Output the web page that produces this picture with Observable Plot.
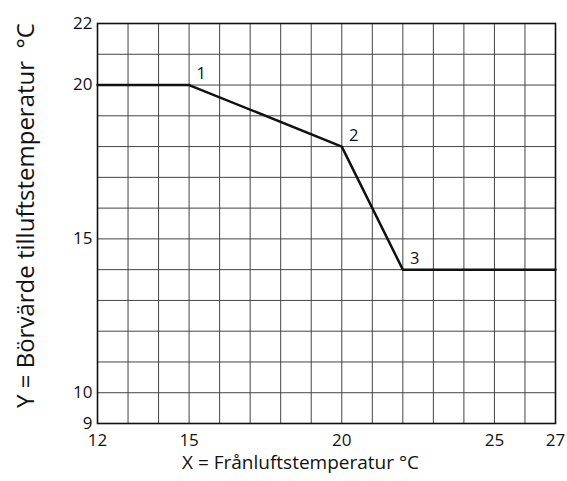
<!DOCTYPE html>
<html>
<head>
<meta charset="utf-8">
<script src="https://cdn.jsdelivr.net/npm/d3@7"></script>
<script src="https://cdn.jsdelivr.net/npm/@observablehq/plot@0.6"></script>
<style>
  html, body { margin: 0; padding: 0; background: #fff; }
  svg { overflow: visible; }
</style>
</head>
<body>
<div id="chart"></div>
<script>
const curveX = [12, 15, 20, 22, 27];
const curveY = [20, 20, 18, 14, 14];
const pointLabels = ["1", "2", "3"];
const pointX = [15, 20, 22];
const pointY = [20, 18, 14];
const xTicks = [12, 15, 20, 25, 27];
const yTicks = [9, 10, 15, 20, 22];
const gridX = d3.range(13, 27);
const gridY = d3.range(10, 22);
const xLabel = "X = Frånluftstemperatur °C";
const yLabel = "Y = Börvärde tilluftstemperatur  °C";

const curve = curveX.map((x, i) => ({x, y: curveY[i]}));
const pts = pointLabels.map((t, i) => ({t, x: pointX[i], y: pointY[i]}));

const font = "'Open Sans', 'Noto Sans', sans-serif";

const chart = Plot.plot({
  width: 567,
  height: 481,
  marginLeft: 97,
  marginRight: 12,
  marginTop: 23,
  marginBottom: 58,
  style: {fontFamily: font, background: "#fff", color: "#111"},
  x: {domain: [12, 27], axis: null},
  y: {domain: [9, 22], axis: null},
  marks: [
    Plot.ruleX(gridX, {stroke: "#444", strokeWidth: 1}),
    Plot.ruleY(gridY, {stroke: "#444", strokeWidth: 1}),
    Plot.frame({stroke: "#111", strokeWidth: 1.6}),
    Plot.text(xTicks, {x: d => d, frameAnchor: "bottom", lineAnchor: "top", text: d => String(d), dy: 10, fontSize: 17, fill: "#111"}),
    Plot.text(yTicks, {y: d => d, frameAnchor: "left", textAnchor: "end", text: d => String(d), dx: -5, fontSize: 17, fill: "#111"}),
    Plot.line(curve, {x: "x", y: "y", stroke: "#111", strokeWidth: 2.5}),
    Plot.text(pts, {x: "x", y: "y", text: "t", dx: 12, dy: -11, fontSize: 16.5, fill: "#111"}),
    Plot.text([xLabel], {frameAnchor: "bottom", textAnchor: "middle", text: d => d, dx: -26, dy: 45, fontSize: 19, fill: "#111"}),
    Plot.text([yLabel], {frameAnchor: "left", textAnchor: "middle", text: d => d, rotate: -90, dx: -71, dy: -8, fontSize: 24, fill: "#111"})
  ]
});
document.getElementById("chart").appendChild(chart);
</script>
</body>
</html>
